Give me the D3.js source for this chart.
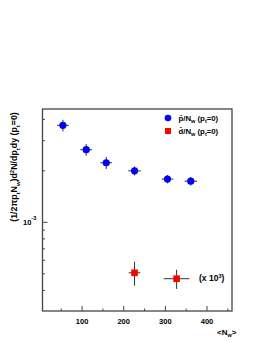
<!DOCTYPE html>
<html>
<head>
<meta charset="utf-8">
<script src="https://cdn.jsdelivr.net/npm/d3@7"></script>
<style>
  body { margin: 0; background: #fff; }
  text { font-family: "Liberation Sans", Arial, sans-serif; font-weight: bold; fill: #000; }
</style>
</head>
<body>
<div id="chart"></div>
<script>
// antiproton points, p_t = 0
var pbarNw = [54, 110, 158, 226, 305, 361];
var pbarVal = [3.69e-3, 2.66e-3, 2.23e-3, 2.0e-3, 1.79e-3, 1.74e-3];
var pbarXerr = [14, 14, 14, 15, 14, 15];
var pbarYerr = [0.29e-3, 0.21e-3, 0.18e-3, 0.12e-3, 0.1e-3, 0.1e-3];

// antideuteron points (x 10^3)
var dbarNw = [226, 327];
var dbarVal = [5.07e-4, 4.68e-4];
var dbarXerr = [14, 31];
var dbarYerr = [0.81e-4, 0.6e-4];

var xTicks = [100, 200, 300, 400];

(function () {
    var width = 264, height = 342;
    var pLeft = 42.5, pRight = 232, pTop = 109, pBottom = 311;

    var svg = d3.select('#chart').append('svg')
        .attr('width', width)
        .attr('height', height);

    var x = d3.scaleLinear().domain([5, 460]).range([pLeft, pRight]);
    var y = d3.scaleLog().domain([3.03e-4, 4.6e-3]).range([pBottom, pTop]);

    // frame
    svg.append('rect')
        .attr('x', pLeft).attr('y', pTop)
        .attr('width', pRight - pLeft).attr('height', pBottom - pTop)
        .attr('fill', 'none')
        .attr('stroke', '#444')
        .attr('stroke-width', 1.3);

    // x ticks (inside, from bottom)
    var xMinor = d3.range(50, 460, 50);
    svg.selectAll('.xt')
        .data(xMinor)
        .enter().append('line')
        .attr('x1', function (d) { return x(d); })
        .attr('x2', function (d) { return x(d); })
        .attr('y1', pBottom)
        .attr('y2', function (d) { return d % 100 == 0 ? pBottom - 5 : pBottom - 2.5; })
        .attr('stroke', '#444');

    svg.selectAll('.xl')
        .data(xTicks)
        .enter().append('text')
        .attr('x', function (d) { return x(d); })
        .attr('y', 324)
        .attr('text-anchor', 'middle')
        .style('font-size', '7.5px')
        .text(function (d) { return d; });

    // y ticks, log
    var yMinor = [4e-4, 5e-4, 6e-4, 7e-4, 8e-4, 9e-4, 1e-3, 2e-3, 3e-3, 4e-3];
    svg.selectAll('.yt')
        .data(yMinor)
        .enter().append('line')
        .attr('x1', pLeft)
        .attr('x2', function (d) { return d == 1e-3 ? pLeft + 5 : pLeft + 2.5; })
        .attr('y1', function (d) { return y(d); })
        .attr('y2', function (d) { return y(d); })
        .attr('stroke', '#444');

    var t10 = svg.append('text')
        .attr('x', 23)
        .attr('y', y(1e-3) + 3)
        .style('font-size', '7.5px');
    t10.append('tspan').text('10');
    t10.append('tspan').attr('dy', -5).style('font-size', '5.5px').text('-3');

    // error bars
    function drawErr(nw, val, xe, ye) {
        var g = svg.append('g').attr('stroke', '#333').attr('stroke-width', 1);
        nw.forEach(function (d, i) {
            g.append('line')
                .attr('x1', x(d - xe[i])).attr('x2', x(d + xe[i]))
                .attr('y1', y(val[i])).attr('y2', y(val[i]));
            g.append('line')
                .attr('x1', x(d)).attr('x2', x(d))
                .attr('y1', y(val[i] - ye[i])).attr('y2', y(val[i] + ye[i]));
        });
    }
    drawErr(pbarNw, pbarVal, pbarXerr, pbarYerr);
    drawErr(dbarNw, dbarVal, dbarXerr, dbarYerr);

    svg.selectAll('.pbar')
        .data(pbarNw)
        .enter().append('circle')
        .attr('cx', function (d) { return x(d); })
        .attr('cy', function (d, i) { return y(pbarVal[i]); })
        .attr('r', 3.6)
        .attr('fill', '#0000ff');

    svg.selectAll('.dbar')
        .data(dbarNw)
        .enter().append('rect')
        .attr('x', function (d) { return x(d) - 3.3; })
        .attr('y', function (d, i) { return y(dbarVal[i]) - 3.3; })
        .attr('width', 6.6).attr('height', 6.6)
        .attr('fill', '#ff0000');

    var sc = svg.append('text')
        .attr('x', 199).attr('y', 281)
        .style('font-size', '8.5px');
    sc.append('tspan').text('(x 10');
    sc.append('tspan').attr('dy', -3.5).style('font-size', '5.5px').text('3');
    sc.append('tspan').attr('dy', 3.5).text(')');

    // legend
    svg.append('circle').attr('cx', 168).attr('cy', 118).attr('r', 3.3).attr('fill', '#0000ff');
    svg.append('rect').attr('x', 165).attr('y', 128).attr('width', 6).attr('height', 6).attr('fill', '#ff0000');

    function legText(yy, letter) {
        var t = svg.append('text').attr('x', 178.5).attr('y', yy).style('font-size', '7.8px');
        t.append('tspan').text(letter + '\u0304/N');
        t.append('tspan').attr('dy', 2).style('font-size', '5.5px').text('w');
        t.append('tspan').attr('dy', -2).text(' (p');
        t.append('tspan').attr('dy', 2).style('font-size', '5.5px').text('t');
        t.append('tspan').attr('dy', -2).text('=0)');
    }
    legText(121, 'p');
    legText(134, 'd');

    // x label
    var xl = svg.append('text').attr('x', 217).attr('y', 335).style('font-size', '8px');
    xl.append('tspan').text('<N');
    xl.append('tspan').attr('dy', 2).style('font-size', '5.5px').text('w');
    xl.append('tspan').attr('dy', -2).text('>');

    // y label
    var yl = svg.append('text')
        .attr('transform', 'translate(16.5,167) rotate(-90)')
        .attr('text-anchor', 'middle')
        .style('font-size', '8.8px');
    var parts = [['(1/2\u03c0p', 0], ['t', 1], ['N', 0], ['w', 1], [')d', 0], ['2', -1], ['N/dp', 0], ['t', 1], ['dy (p', 0], ['t', 1], ['=0)', 0]];
    var prev = 0;
    parts.forEach(function (p) {
        var shift = p[1] * 3;
        yl.append('tspan')
            .attr('dy', shift - prev)
            .style('font-size', p[1] == 0 ? '8.8px' : '6px')
            .text(p[0]);
        prev = shift;
    });
})();
</script>
</body>
</html>
